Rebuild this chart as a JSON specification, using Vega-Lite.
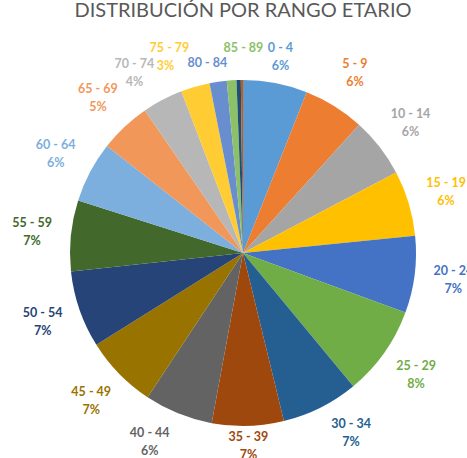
{
  "$schema": "https://vega.github.io/schema/vega-lite/v6.json",
  "width": 448,
  "height": 410,
  "autosize": {"type": "none"},
  "padding": {"left": 19, "top": 48, "right": 0, "bottom": 0},
  "background": "white",
  "title": {
    "text": ["", "DISTRIBUCIÓN  POR RANGO ETARIO"],
    "font": "Lato",
    "fontSize": 20,
    "lineHeight": 11,
    "fontWeight": "normal",
    "color": "#595959",
    "anchor": "middle",
    "offset": -4
  },
  "data": {
    "values": [
      {"rango": "0 - 4", "orden": 0, "valor": 0.060},
      {"rango": "5 - 9", "orden": 1, "valor": 0.057},
      {"rango": "10 - 14", "orden": 2, "valor": 0.056},
      {"rango": "15 - 19", "orden": 3, "valor": 0.061},
      {"rango": "20 - 24", "orden": 4, "valor": 0.072},
      {"rango": "25 - 29", "orden": 5, "valor": 0.084},
      {"rango": "30 - 34", "orden": 6, "valor": 0.072},
      {"rango": "35 - 39", "orden": 7, "valor": 0.067},
      {"rango": "40 - 44", "orden": 8, "valor": 0.064},
      {"rango": "45 - 49", "orden": 9, "valor": 0.068},
      {"rango": "50 - 54", "orden": 10, "valor": 0.072},
      {"rango": "55 - 59", "orden": 11, "valor": 0.066},
      {"rango": "60 - 64", "orden": 12, "valor": 0.057},
      {"rango": "65 - 69", "orden": 13, "valor": 0.048},
      {"rango": "70 - 74", "orden": 14, "valor": 0.038},
      {"rango": "75 - 79", "orden": 15, "valor": 0.027},
      {"rango": "80 - 84", "orden": 16, "valor": 0.016},
      {"rango": "85 - 89", "orden": 17, "valor": 0.009},
      {"rango": "90 - 94", "orden": 18, "valor": 0.004},
      {"rango": "95 y más", "orden": 19, "valor": 0.002}
    ]
  },
  "encoding": {
    "theta": {"field": "valor", "type": "quantitative", "stack": true},
    "order": {"field": "orden", "type": "quantitative", "sort": "ascending"},
    "color": {
      "field": "rango",
      "type": "nominal",
      "legend": null,
      "scale": {
        "domain": ["0 - 4", "5 - 9", "10 - 14", "15 - 19", "20 - 24", "25 - 29", "30 - 34", "35 - 39", "40 - 44", "45 - 49", "50 - 54", "55 - 59", "60 - 64", "65 - 69", "70 - 74", "75 - 79", "80 - 84", "85 - 89", "90 - 94", "95 y más"],
        "range": ["#5B9BD5", "#ED7D31", "#A5A5A5", "#FFC000", "#4472C4", "#70AD47", "#255E91", "#9E480E", "#636363", "#997300", "#264478", "#43682B", "#7CAFDD", "#F1975A", "#B7B7B7", "#FFCD33", "#698ED0", "#8CC168", "#1F4E79", "#C55A11"]
      }
    }
  },
  "layer": [
    {
      "mark": {"type": "arc", "outerRadius": 173}
    },
    {
      "mark": {"type": "text", "radius": 212, "dy": -9, "font": "Lato", "fontSize": 12.5, "fontWeight": "bold"},
      "encoding": {
        "text": {"field": "rango"},
        "opacity": {"condition": {"test": "indexof(['0 - 4','30 - 34','35 - 39','40 - 44','70 - 74','75 - 79','80 - 84','85 - 89','90 - 94','95 y más'], datum.rango) >= 0", "value": 0}, "value": 1}
      }
    },
    {
      "mark": {"type": "text", "radius": 212, "dy": 9, "font": "Lato", "fontSize": 12.5, "fontWeight": "bold"},
      "encoding": {
        "text": {"field": "valor", "format": ".0%"},
        "opacity": {"condition": {"test": "indexof(['0 - 4','30 - 34','35 - 39','40 - 44','70 - 74','75 - 79','80 - 84','85 - 89','90 - 94','95 y más'], datum.rango) >= 0", "value": 0}, "value": 1}
      }
    },
    {
      "mark": {"type": "text", "radius": 200, "dy": -9, "font": "Lato", "fontSize": 12.5, "fontWeight": "bold"},
      "encoding": {
        "text": {"field": "rango"},
        "opacity": {"condition": {"test": "datum.rango == '0 - 4'", "value": 1}, "value": 0}
      }
    },
    {
      "mark": {"type": "text", "radius": 200, "dy": 9, "font": "Lato", "fontSize": 12.5, "fontWeight": "bold"},
      "encoding": {
        "text": {"field": "valor", "format": ".0%"},
        "opacity": {"condition": {"test": "datum.rango == '0 - 4'", "value": 1}, "value": 0}
      }
    },
    {
      "mark": {"type": "text", "radius": 193, "dy": -9, "font": "Lato", "fontSize": 12.5, "fontWeight": "bold"},
      "encoding": {
        "text": {"field": "rango"},
        "opacity": {"condition": {"test": "datum.rango == '35 - 39'", "value": 1}, "value": 0}
      }
    },
    {
      "mark": {"type": "text", "radius": 193, "dy": 9, "font": "Lato", "fontSize": 12.5, "fontWeight": "bold"},
      "encoding": {
        "text": {"field": "valor", "format": ".0%"},
        "opacity": {"condition": {"test": "datum.rango == '35 - 39'", "value": 1}, "value": 0}
      }
    },
    {
      "mark": {"type": "text", "radius": 212, "dx": 13, "dy": -18, "font": "Lato", "fontSize": 12.5, "fontWeight": "bold"},
      "encoding": {
        "text": {"field": "rango"},
        "opacity": {"condition": {"test": "datum.rango == '30 - 34'", "value": 1}, "value": 0}
      }
    },
    {
      "mark": {"type": "text", "radius": 212, "dx": 13, "dy": 0, "font": "Lato", "fontSize": 12.5, "fontWeight": "bold"},
      "encoding": {
        "text": {"field": "valor", "format": ".0%"},
        "opacity": {"condition": {"test": "datum.rango == '30 - 34'", "value": 1}, "value": 0}
      }
    },
    {
      "mark": {"type": "text", "radius": 212, "dx": -14, "dy": -17, "font": "Lato", "fontSize": 12.5, "fontWeight": "bold"},
      "encoding": {
        "text": {"field": "rango"},
        "opacity": {"condition": {"test": "datum.rango == '40 - 44'", "value": 1}, "value": 0}
      }
    },
    {
      "mark": {"type": "text", "radius": 212, "dx": -14, "dy": 1, "font": "Lato", "fontSize": 12.5, "fontWeight": "bold"},
      "encoding": {
        "text": {"field": "valor", "format": ".0%"},
        "opacity": {"condition": {"test": "datum.rango == '40 - 44'", "value": 1}, "value": 0}
      }
    },
    {
      "mark": {"type": "text", "radius": 212, "dx": -10, "dy": -1, "font": "Lato", "fontSize": 12.5, "fontWeight": "bold"},
      "encoding": {
        "text": {"field": "rango"},
        "opacity": {"condition": {"test": "datum.rango == '70 - 74'", "value": 1}, "value": 0}
      }
    },
    {
      "mark": {"type": "text", "radius": 212, "dx": -10, "dy": 17, "font": "Lato", "fontSize": 12.5, "fontWeight": "bold"},
      "encoding": {
        "text": {"field": "valor", "format": ".0%"},
        "opacity": {"condition": {"test": "datum.rango == '70 - 74'", "value": 1}, "value": 0}
      }
    },
    {
      "mark": {"type": "text", "radius": 212, "dx": -15, "dy": -1, "font": "Lato", "fontSize": 12.5, "fontWeight": "bold"},
      "encoding": {
        "text": {"field": "rango"},
        "opacity": {"condition": {"test": "datum.rango == '75 - 79'", "value": 1}, "value": 0}
      }
    },
    {
      "mark": {"type": "text", "radius": 212, "dx": -19, "dy": 17, "font": "Lato", "fontSize": 12.5, "fontWeight": "bold"},
      "encoding": {
        "text": {"field": "valor", "format": ".0%"},
        "opacity": {"condition": {"test": "datum.rango == '75 - 79'", "value": 1}, "value": 0}
      }
    },
    {
      "mark": {"type": "text", "radius": 192, "dx": -8, "font": "Lato", "fontSize": 12.5, "fontWeight": "bold"},
      "encoding": {
        "text": {"field": "rango"},
        "opacity": {"condition": {"test": "datum.rango == '80 - 84'", "value": 1}, "value": 0}
      }
    },
    {
      "mark": {"type": "text", "radius": 205, "dx": 14, "font": "Lato", "fontSize": 12.5, "fontWeight": "bold"},
      "encoding": {
        "text": {"field": "rango"},
        "opacity": {"condition": {"test": "datum.rango == '85 - 89'", "value": 1}, "value": 0}
      }
    }
  ]
}
